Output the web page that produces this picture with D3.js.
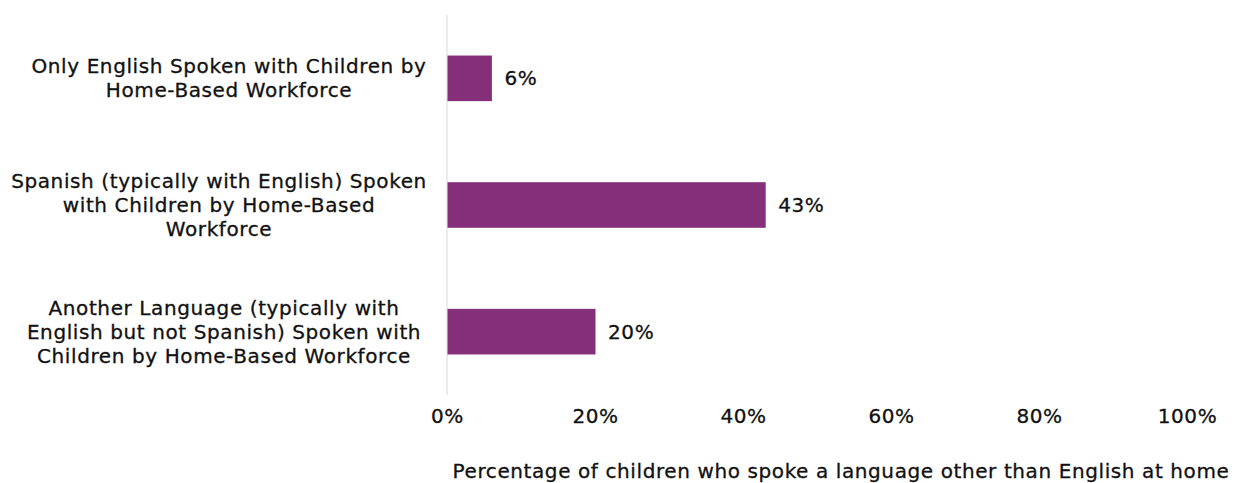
<!DOCTYPE html>
<html>
<head>
<meta charset="utf-8">
<script src="https://cdn.jsdelivr.net/npm/d3@7"></script>
<style>
  body { margin: 0; background: #fff; }
  text { font-family: "DejaVu Sans", sans-serif; font-weight: normal; fill: #111; stroke: #111; stroke-width: 0.3px; letter-spacing: 0.6px; }
</style>
</head>
<body>
<svg id="chart" width="1234" height="483"></svg>
<script>
// data
var categories = [
  ["Only English Spoken with Children by", "Home-Based Workforce"],
  ["Spanish (typically with English) Spoken", "with Children by Home-Based", "Workforce"],
  ["Another Language (typically with", "English but not Spanish) Spoken with", "Children by Home-Based Workforce"]
];
var values = [6, 43, 20];
var tickValues = [0, 20, 40, 60, 80, 100];
var axisTitle = "Percentage of children who spoke a language other than English at home";

var width = 1234, height = 483;
var margin = {top: 15, right: 47, bottom: 88, left: 447};
var barColor = "#852e7a";
var fontSize = "20px";

var svg = d3.select("#chart");

var x = d3.scaleLinear().domain([0, 100]).range([margin.left, width - margin.right]);
var y = d3.scaleBand().domain(d3.range(values.length))
    .range([margin.top, height - margin.bottom]).paddingInner(0.64).paddingOuter(0.32);

// vertical axis line
svg.append("line")
  .attr("x1", x(0)).attr("x2", x(0))
  .attr("y1", margin.top).attr("y2", height - margin.bottom)
  .attr("stroke", "#d9d9d9").attr("stroke-width", 1);

// bars
svg.selectAll("rect.bar").data(values).enter()
  .append("rect").attr("class", "bar")
  .attr("x", x(0) + 0.5)
  .attr("y", function(d, i) { return y(i); })
  .attr("width", function(d) { return x(d) - x(0); })
  .attr("height", y.bandwidth())
  .attr("fill", barColor);

// value labels
svg.selectAll("text.val").data(values).enter()
  .append("text").attr("class", "val")
  .attr("x", function(d) { return x(d) + 13; })
  .attr("y", function(d, i) { return y(i) + y.bandwidth() / 2; })
  .attr("dy", "0.35em")
  .style("font-size", fontSize)
  .text(function(d) { return d + "%"; });

// category labels
var lineH = 24;
var catX = [229, 219, 224];
var cat = svg.selectAll("text.cat").data(categories).enter()
  .append("text").attr("class", "cat")
  .attr("text-anchor", "middle")
  .style("font-size", fontSize)
  .attr("transform", function(d, i) {
    var cy = y(i) + y.bandwidth() / 2 - (d.length - 1) * lineH / 2;
    return "translate(" + catX[i] + "," + cy + ")";
  });
cat.selectAll("tspan").data(function(d) { return d; }).enter()
  .append("tspan")
  .attr("x", 0)
  .attr("y", function(d, i) { return i * lineH; })
  .attr("dy", "0.35em")
  .text(function(d) { return d; });

// x axis tick labels
var xAxis = d3.axisBottom(x).tickValues(tickValues)
  .tickFormat(function(d) { return d + "%"; }).tickSize(0).tickPadding(0);
var gx = svg.append("g")
  .attr("transform", "translate(0," + 409 + ")")
  .call(xAxis);
gx.select(".domain").remove();
gx.selectAll("text")
  .style("font-family", "'DejaVu Sans', sans-serif")
  .style("font-size", fontSize)
  .attr("fill", "#111");

// axis title
svg.append("text")
  .attr("x", 841).attr("y", 471)
  .attr("text-anchor", "middle")
  .attr("dy", "0.35em")
  .style("font-size", fontSize)
  .text(axisTitle);
</script>
</body>
</html>
